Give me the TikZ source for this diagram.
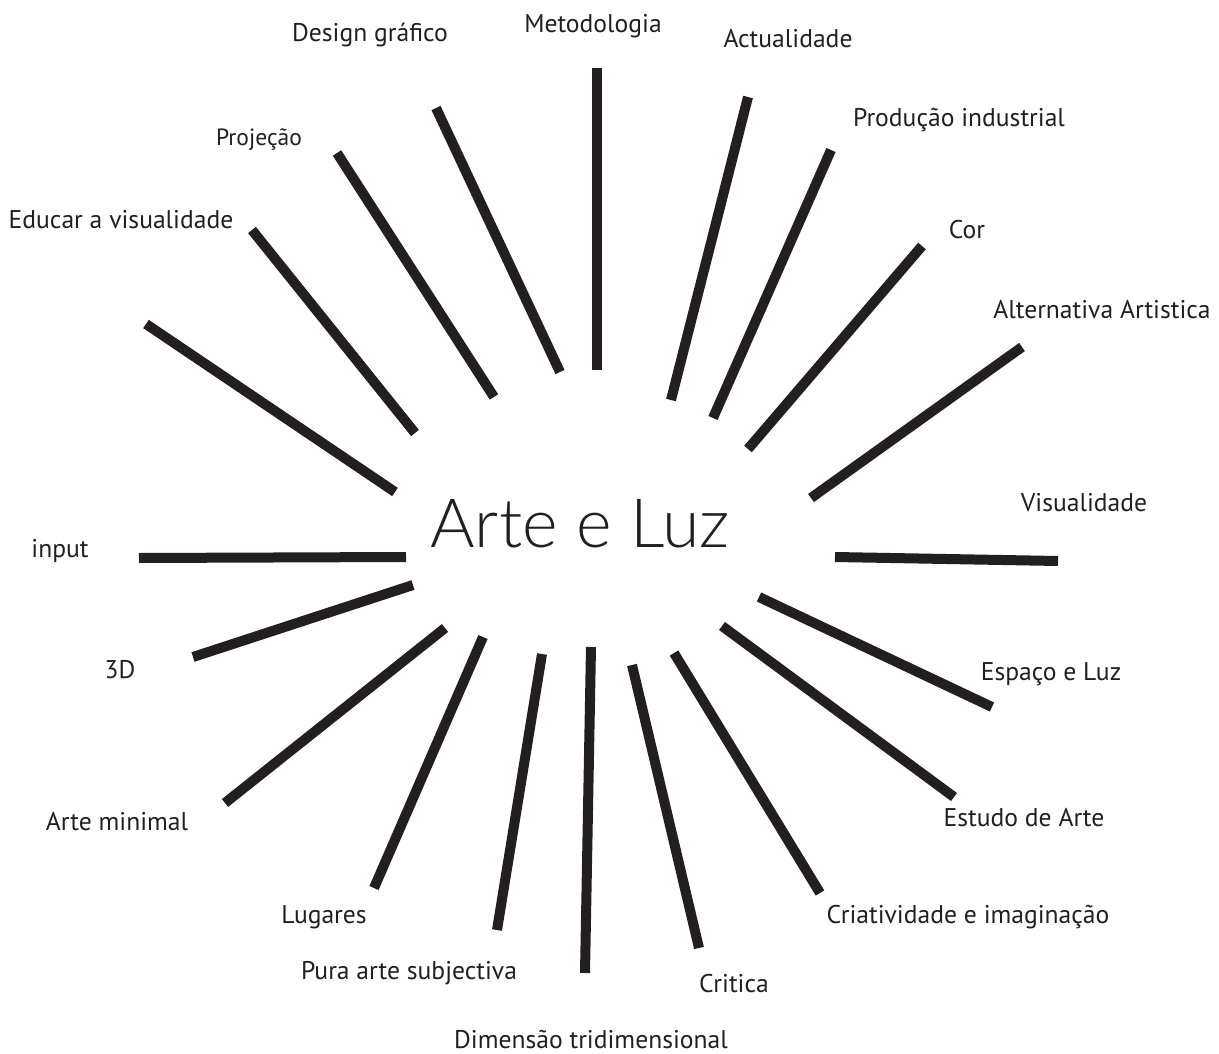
\documentclass[tikz,border=0pt]{standalone}
\usepackage{fontspec}
\setmainfont{PT Sans}
\newfontfamily\titlefont{Lato Light}
\definecolor{ink}{HTML}{231F20}
\tikzset{
  spoke/.style={draw=ink, line width=10pt, line cap=butt},
  lab/.style={anchor=base, inner sep=0pt, text=ink, font=\fontsize{25.6}{30}\selectfont},
  title/.style={anchor=base, inner sep=0pt, text=ink, font=\titlefont\fontsize{68}{72}\selectfont}
}
\begin{document}
\begin{tikzpicture}[x=1pt,y=-1pt]
\useasboundingbox (0,0) rectangle (1219,1054);
\fill[white] (0,0) rectangle (1219,1054);

\node[title] (center) at (580,547) {Arte e Luz};

% spokes: (outer) -- (inner)
\foreach \n/\ax/\ay/\bx/\by in {
  met/597/68/597/370,
  act/748/97/671/400,
  pro/831/150/713/418,
  cor/922/246/748/449,
  alt/1022/347/811/498,
  vis/1058/561/835/557,
  esp/992/707/759/597,
  est/954/797/722/626,
  cri/820/893/674/653,
  crt/699/948/632/665,
  dim/585/973/591/647,
  pur/497/930/542/654,
  lug/374/888/483/637,
  min/225/803/445/628,
  tre/193/657/413/585,
  inp/139/558/406/557,
  unl/146/324/395/492,
  edu/252/230/415/433,
  prj/337/153/494/397,
  des/436/108/560/372}{
  \coordinate (\n-o) at (\ax,\ay);
  \coordinate (\n-i) at (\bx,\by);
  \draw[spoke] (\n-o) -- (\n-i);
}

\node[lab] (l-des) at (370,42) {Design gráfico};
\node[lab] (l-met) at (593,33) {Metodologia};
\node[lab] (l-act) at (788,48) {Actualidade};
\node[lab] (l-pro) at (959,127) {Produção industrial};
\node[lab] (l-cor) at (967,238) {Cor};
\node[lab] (l-alt) at (1102,318) {Alternativa Artistica};
\node[lab] (l-vis) at (1084,511) {Visualidade};
\node[lab] (l-esp) at (1051,680) {Espaço e Luz};
\node[lab] (l-est) at (1024,826) {Estudo de Arte};
\node[lab] (l-cri) at (968,923) {Criatividade e imaginação};
\node[lab] (l-crt) at (734,992) {Critica};
\node[lab] (l-dim) at (591,1048) {Dimensão tridimensional};
\node[lab] (l-pur) at (409,979) {Pura arte subjectiva};
\node[lab] (l-lug) at (324,923) {Lugares};
\node[lab] (l-min) at (117,830) {Arte minimal};
\node[lab] (l-tre) at (120,678) {3D};
\node[lab] (l-inp) at (60,557) {input};
\node[lab] (l-edu) at (121,229) {Educar a visualidade};
\node[lab, font=\fontsize{23.5}{27}\selectfont] (l-prj) at (259,146) {Projeção};
\end{tikzpicture}
\end{document}
